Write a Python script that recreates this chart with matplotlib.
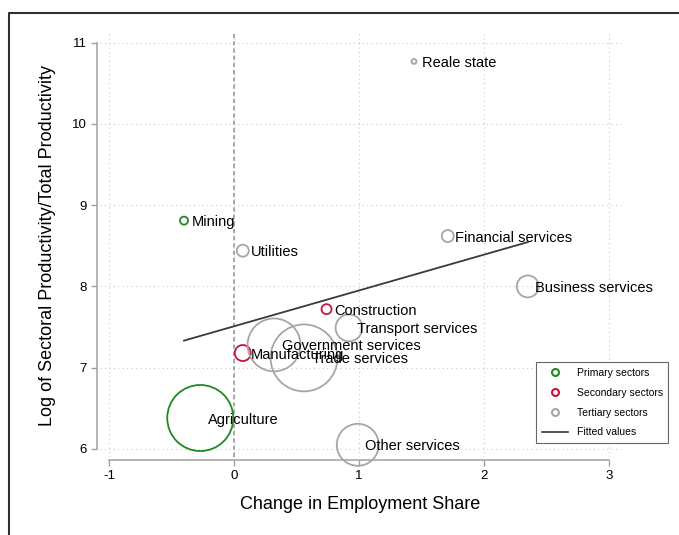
import numpy as np
import matplotlib.pyplot as plt
from matplotlib.lines import Line2D

plt.rcParams['font.family'] = ['Liberation Sans', 'DejaVu Sans']
plt.rcParams['axes.unicode_minus'] = False

# datos
sectors = ['Agriculture', 'Mining', 'Manufacturing', 'Construction', 'Utilities',
           'Trade services', 'Transport services', 'Financial services',
           'Business services', 'Government services', 'Other services', 'Reale state']
groups = ['Primary', 'Primary', 'Secondary', 'Secondary', 'Tertiary',
          'Tertiary', 'Tertiary', 'Tertiary', 'Tertiary', 'Tertiary', 'Tertiary', 'Tertiary']
emp_change = [-0.27, -0.40, 0.07, 0.74, 0.07, 0.56, 0.92, 1.71, 2.35, 0.32, 0.99, 1.44]
log_prod = [6.38, 8.81, 7.18, 7.72, 8.44, 7.12, 7.49, 8.62, 8.00, 7.28, 6.05, 10.77]
# peso de cada sector (tamano de la burbuja)
weight = [10.9, 0.16, 0.64, 0.25, 0.36, 11.2, 1.8, 0.36, 1.2, 7.0, 4.4, 0.06]

group_names = ['Primary', 'Secondary', 'Tertiary']
group_labels = ['Primary sectors', 'Secondary sectors', 'Tertiary sectors']
colors = {'Primary': '#1f8a1f', 'Secondary': '#c8143c', 'Tertiary': '#a6a6a6'}

xticks = [-1, 0, 1, 2, 3]
yticks = [6, 7, 8, 9, 10, 11]

x = np.array(emp_change)
y = np.array(log_prod)
w = np.array(weight)
g = np.array(groups)

fig = plt.figure(figsize=(6.79, 5.35), dpi=100)
ax = fig.add_axes([0.1473, 0.1458, 0.7673, 0.7925])

# burbujas por grupo
for name in group_names:
    m = g == name
    ax.scatter(x[m], y[m], s=w[m] * 207.4, facecolors='none',
               edgecolors=colors[name], linewidths=1.3, zorder=3, clip_on=False)

# recta ajustada (MCO)
b1, b0 = np.polyfit(x, y, 1)
xs = np.array([x.min(), x.max()])
ax.plot(xs, b0 + b1 * xs, color='#3a3a3a', lw=1.3, zorder=4)

# etiquetas
for name, xi, yi in zip(sectors, x, y):
    ax.annotate(name, (xi, yi), xytext=(5.5, 0), textcoords='offset points',
                ha='left', va='center_baseline', fontsize=10.5, color='black', zorder=5)

ax.axvline(0, color='#a0a0a0', lw=1.3, ls=(0, (2.3, 1.7)), zorder=2)

ax.set_xlim(-1.072, 3.096)
ax.set_ylim(5.90, 11.12)
ax.set_xticks(xticks)
ax.set_yticks(yticks)
ax.grid(True, linestyle=(0, (1, 3)), color='#c8c8c8', lw=0.8)
gl = ax.get_xgridlines()
gl[0].set_visible(False)
gl[-1].set_visible(False)
ax.set_axisbelow(True)

for s in ['top', 'right']:
    ax.spines[s].set_visible(False)
ax.spines['left'].set_position(('outward', 2))
ax.spines['left'].set_bounds(6, 11)
ax.spines['bottom'].set_position(('outward', 2))
ax.spines['bottom'].set_bounds(-1, 3)
for s in ['left', 'bottom']:
    ax.spines[s].set_color('#a0a0a0')
    ax.spines[s].set_linewidth(1.1)
ax.tick_params(direction='out', length=4.3, width=1, color='#a0a0a0',
               labelsize=9.5, pad=3)

ax.set_xlabel('Change in Employment Share', fontsize=13, labelpad=10)
ax.set_ylabel('Log of Sectoral Productivity/Total Productivity', fontsize=13, labelpad=12)

# leyenda
handles = [Line2D([], [], marker='o', ls='none', mfc='none', mec=colors[n], mew=1.5, ms=5)
           for n in group_names]
handles.append(Line2D([], [], color='#3a3a3a', lw=1.2))
leg = ax.legend(handles, group_labels + ['Fitted values'], loc='upper left',
                bbox_to_anchor=(536 / 679, 1 - 362 / 535), bbox_transform=fig.transFigure,
                fontsize=7.5, frameon=True, fancybox=False, edgecolor='#404040',
                handlelength=2.5, handletextpad=0.85, labelspacing=0.95,
                borderpad=0.55, borderaxespad=0)
leg.get_frame().set_linewidth(0.8)
leg.set_zorder(6)

# marco exterior
fig.add_artist(Line2D([8.5 / 679, 8.5 / 679, 1.0], [0.0, 1 - 12.5 / 535, 1 - 12.5 / 535],
                      transform=fig.transFigure, color='#303030', lw=1.5))

fig.savefig('out.png', dpi=100)
